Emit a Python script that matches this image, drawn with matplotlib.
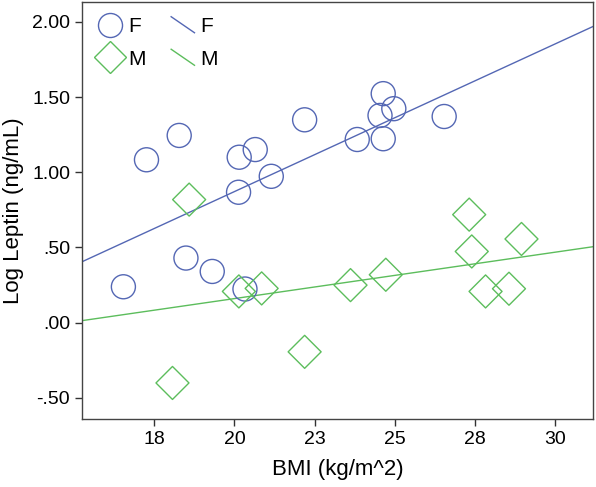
import numpy as np
import matplotlib
matplotlib.use("Agg")
import matplotlib.pyplot as plt
from matplotlib.lines import Line2D
from matplotlib.legend_handler import HandlerBase

plt.rcParams['font.family'] = ['Liberation Sans', 'DejaVu Sans']

# BMI / log leptin
bmi_f = [16.54, 17.26, 18.28, 18.49, 19.31, 20.15, 20.65, 20.13, 21.15, 22.19,
         20.33, 23.83, 24.54, 24.64, 24.64, 24.97, 26.54]
lep_f = [0.238, 1.083, 1.245, 0.429, 0.340, 1.100, 1.151, 0.867, 0.973, 1.349,
         0.223, 1.218, 1.378, 1.523, 1.223, 1.423, 1.371]
bmi_m = [18.59, 18.07, 20.14, 20.85, 22.19, 23.62, 24.72, 27.32, 27.40, 28.95,
         27.83, 28.56]
lep_m = [0.818, -0.402, 0.207, 0.227, -0.195, 0.249, 0.318, 0.718, 0.473, 0.556,
         0.207, 0.225]

xticks = [17.5, 20, 22.5, 25, 27.5, 30]
xticklabels = ['18', '20', '23', '25', '28', '30']
yticks = [-0.5, 0.0, 0.5, 1.0, 1.5, 2.0]
yticklabels = ['-.50', '.00', '.50', '1.00', '1.50', '2.00']

blue = '#5467b4'
green = '#5cbd5c'
xlim = (15.25, 31.18)


class HandlerDiag(HandlerBase):
    # SPSS draws the fit-line legend key as a short slanted stroke
    def create_artists(self, legend, orig_handle, xdescent, ydescent,
                       width, height, fontsize, trans):
        ln = Line2D([-xdescent + 0.15 * width, -xdescent + 0.85 * width],
                    [-ydescent + 1.05 * height, -ydescent - 0.05 * height],
                    color=orig_handle.get_color(), lw=1.0, transform=trans)
        return [ln]


fig = plt.figure(figsize=(5.96, 4.87), dpi=100)
ax = fig.add_axes([0.1376, 0.1396, 0.8574, 0.8554])

ax.scatter(bmi_f, lep_f, s=17.3 ** 2, facecolors='none', edgecolors=blue,
           linewidths=1.0, marker='o', zorder=3)
ax.scatter(bmi_m, lep_m, s=(16.8) ** 2, facecolors='none', edgecolors=green,
           linewidths=1.0, marker='D', zorder=3)

xx = np.array(xlim)
bf = np.polyfit(bmi_f, lep_f, 1)
bm = np.polyfit(bmi_m, lep_m, 1)
ax.plot(xx, np.polyval(bf, xx), color=blue, lw=1.0, zorder=2)
ax.plot(xx, np.polyval(bm, xx), color=green, lw=1.0, zorder=2)

ax.set_xlim(*xlim)
ax.set_ylim(-0.642, 2.13)
ax.set_xticks(xticks)
ax.set_xticklabels(xticklabels)
ax.set_yticks(yticks)
ax.set_yticklabels(yticklabels)
ax.tick_params(direction='out', length=5, width=1, colors='#333333',
               labelsize=14, labelcolor='black')
for sp in ax.spines.values():
    sp.set_color('#444444')
    sp.set_linewidth(1.0)

ax.set_xlabel('BMI (kg/m^2)', fontsize=16, labelpad=8)
ax.set_ylabel('Log Leptin (ng/mL)', fontsize=16, labelpad=6)

h_fo = Line2D([], [], ls='none', marker='o', ms=17.3, mfc='none', mec=blue, mew=1.0)
h_mo = Line2D([], [], ls='none', marker='D', ms=16.8, mfc='none', mec=green, mew=1.0)
h_fl = Line2D([], [], color=blue)
h_ml = Line2D([], [], color=green)
leg = ax.legend([h_fo, h_mo, h_fl, h_ml], ['F', 'M', 'F', 'M'], ncol=2,
                loc='upper left', bbox_to_anchor=(0.002, 0.99), frameon=False,
                fontsize=15, handlelength=1.6, handletextpad=0.05,
                columnspacing=1.0, labelspacing=0.65, borderaxespad=0.1,
                handler_map={h_fl: HandlerDiag(), h_ml: HandlerDiag()})

fig.savefig('out.png', dpi=100)
